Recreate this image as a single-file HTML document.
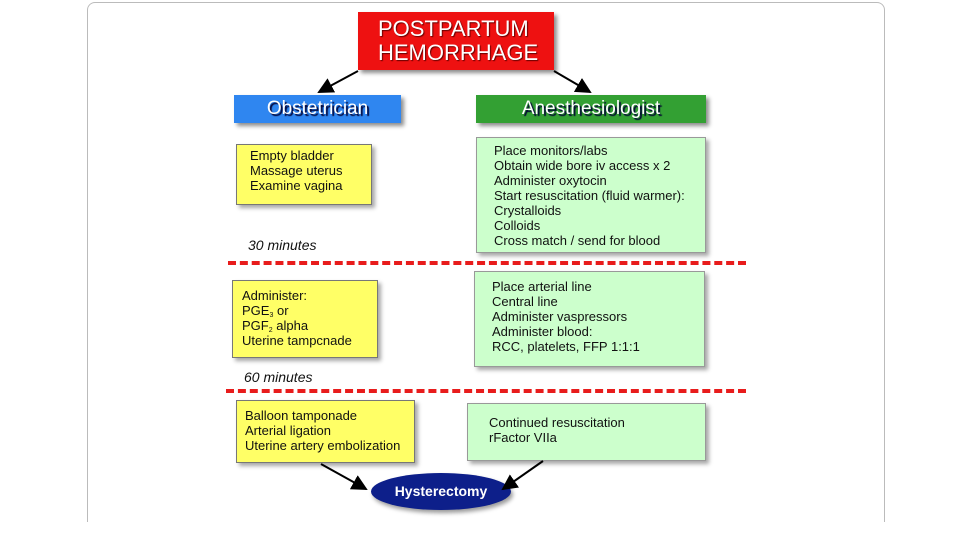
<!DOCTYPE html>
<html><head><style>
body{margin:0;width:960px;height:540px;background:#fff;position:relative;overflow:hidden;font-family:"Liberation Sans",sans-serif}
.a{position:absolute;box-sizing:border-box}
.frame{left:87px;top:2px;width:798px;height:520px;border:1px solid #bbb;border-bottom:none;border-radius:8px 8px 0 0}
.box{border:1px solid #777;box-shadow:3px 3px 4px rgba(0,0,0,.35);font-size:13px;line-height:15px;color:#111}
.y{background:#ffff66}
.g{background:#ccffcc;border-color:#999}
.hdr{color:#fff;font-size:19px;text-align:center;line-height:28px;text-shadow:2px 2px 1px #003;box-shadow:3px 3px 4px rgba(0,0,0,.45)}
.min{font-style:italic;font-size:14px;color:#111}
sub{font-size:7px;line-height:0;vertical-align:-2px}
</style></head><body>
<div class="a frame"></div>
<div class="a hdr" style="left:358px;top:12px;width:196px;height:58px;background:#ee1111;font-size:22px;line-height:24px;padding-top:5px;text-align:left;padding-left:20px;text-shadow:1px 1px 1px #600">POSTPARTUM<br>HEMORRHAGE</div>
<div class="a hdr" style="left:234px;top:95px;width:167px;height:28px;background:#2f86f0">Obstetrician</div>
<div class="a hdr" style="left:476px;top:95px;width:230px;height:28px;background:#33a033">Anesthesiologist</div>
<div class="a box y" style="left:236px;top:144px;width:136px;height:61px;padding:3px 0 0 13px">Empty bladder<br>Massage uterus<br>Examine vagina</div>
<div class="a box g" style="left:476px;top:137px;width:230px;height:116px;padding:5px 0 0 17px">Place monitors/labs<br>Obtain wide bore iv access x 2<br>Administer oxytocin<br>Start resuscitation (fluid warmer):<br>Crystalloids<br>Colloids<br>Cross match / send for blood</div>
<div class="a min" style="left:248px;top:237px">30 minutes</div>
<div class="a" style="left:228px;top:261px;width:518px;border-top:4px dashed #e81c1c"></div>
<div class="a box y" style="left:232px;top:280px;width:146px;height:78px;padding:7px 0 0 9px">Administer:<br>PGE<sub>3</sub> or<br>PGF<sub>2</sub> alpha<br>Uterine tampcnade</div>
<div class="a box g" style="left:474px;top:271px;width:231px;height:96px;padding:7px 0 0 17px">Place arterial line<br>Central line<br>Administer vaspressors<br>Administer blood:<br>RCC, platelets, FFP 1:1:1</div>
<div class="a min" style="left:244px;top:369px">60 minutes</div>
<div class="a" style="left:226px;top:389px;width:520px;border-top:4px dashed #e81c1c"></div>
<div class="a box y" style="left:236px;top:400px;width:179px;height:63px;padding:7px 0 0 8px">Balloon tamponade<br>Arterial ligation<br>Uterine artery embolization</div>
<div class="a box g" style="left:467px;top:403px;width:239px;height:58px;padding:11px 0 0 21px">Continued resuscitation<br>rFactor VIIa</div>
<div class="a" style="left:371px;top:473px;width:140px;height:37px;border-radius:50%;background:#0d1f8a;box-shadow:2px 3px 4px rgba(0,0,0,.4);color:#fff;font-weight:bold;font-size:14px;text-align:center;line-height:37px">Hysterectomy</div>
<svg class="a" style="left:0;top:0" width="960" height="540">
<defs><marker id="m" markerWidth="8" markerHeight="8" refX="7" refY="4" orient="auto"><path d="M0,0L8,4L0,8z" fill="#000"/></marker></defs>
<g stroke="#000" stroke-width="2" marker-end="url(#m)">
<line x1="358" y1="71" x2="319" y2="92"/>
<line x1="554" y1="71" x2="590" y2="92"/>
<line x1="321" y1="464" x2="366" y2="489"/>
<line x1="543" y1="461" x2="503" y2="489"/>
</g></svg>
</body></html>
